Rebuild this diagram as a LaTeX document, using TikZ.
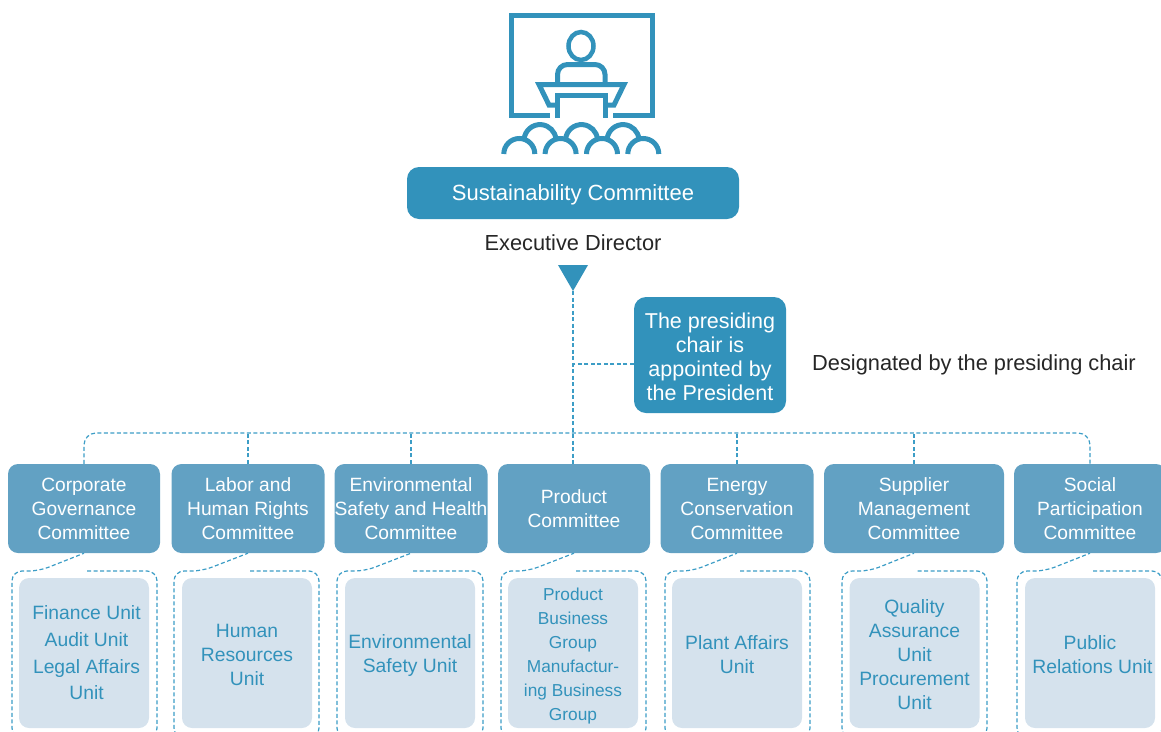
\documentclass[tikz,border=0pt]{standalone}
\usepackage{fontspec}
\setmainfont{Liberation Sans}
\definecolor{mainblue}{HTML}{3292BB}
\definecolor{midblue}{HTML}{62A1C3}
\definecolor{paleblue}{HTML}{D5E2ED}
\definecolor{dashblue}{HTML}{3C9DC6}
\tikzset{
  chairbox/.style={fill=mainblue, text=white, rounded corners=12pt, inner sep=0pt, align=center, font=\fontsize{22}{24}\selectfont},
  commbox/.style={fill=midblue, text=white, rounded corners=10pt, inner sep=0pt, align=center, minimum height=89pt, font=\fontsize{19.2}{24}\selectfont},
  unitbox/.style={fill=paleblue, text=mainblue, rounded corners=10pt, inner sep=0pt, align=center, minimum width=130pt, minimum height=150pt},
  plaintext/.style={text=black!85, inner sep=0pt, font=\fontsize{21.8}{24}\selectfont},
  dashline/.style={draw=dashblue, line width=1.2pt, dash pattern=on 4pt off 2.5pt},
  iconline/.style={draw=mainblue, line width=5pt}
}
\newcommand{\shiftline}{\hspace*{5pt}}
\newcommand{\dropline}[1]{\rule{0pt}{#1pt}}
\begin{document}
\begin{tikzpicture}[x=1pt, y=-1pt]
\useasboundingbox (0,0) rectangle (1161,731);
\clip (0,0) rectangle (1161,731);
% lecture icon
\draw[iconline] (550,115.5) -- (511.5,115.5) -- (511.5,15.5) -- (652.5,15.5) -- (652.5,115.5) -- (613,115.5);
\draw[iconline, line width=4.5pt] (581,46) ellipse [x radius=12.5pt, y radius=14pt];
\draw[iconline, rounded corners=10pt] (557.5,84) -- (557.5,64.5) -- (605,64.5) -- (605,84);
\draw[iconline, line join=miter] (557.5,105) -- (549,105) -- (539,84.5) -- (624,84.5) -- (614,105) -- (605,105);
\draw[iconline] (557.5,118) -- (557.5,95.5) -- (605,95.5) -- (605,118);
\foreach \x in {519.3,560.6,602,643.3}
  \draw[iconline] (\x-15.5,154) arc [start angle=180, end angle=0, radius=15.5pt];
\foreach \x in {540,581.5,623}
  \draw[iconline] (\x-15.9,139.2) arc [start angle=175, end angle=5, radius=16pt];
% top of the chart
\node[chairbox, minimum width=332pt, minimum height=52pt] (sustain) at (573,193) {\dropline{20}Sustainability Committee};
\node[plaintext] (director) at (573,243) {Executive Director};
\fill[mainblue] (558,265) -- (588,265) -- (573,291) -- cycle;
\coordinate (tip) at (573,291);
\coordinate (bus) at (573,433);
\node[chairbox, minimum width=152pt, minimum height=116pt, font=\fontsize{21.5}{24}\selectfont] (chair) at (710,355) {\dropline{20}The presiding\\chair is\\appointed by\\the President};
\node[plaintext, anchor=west] (designated) at (812,365) {Designated by the presiding chair};
% committees and their units
\foreach \name/\cx/\w/\ux/\lx/\rx/\usize/\ctxt/\utxt in {
  corporate/84/152/84/12/157/19.3/{Corporate\\Governance\\Committee}/{\shiftline Finance Unit\\[2.7pt]\shiftline Audit Unit\\[2.7pt]\shiftline Legal Affairs\\[2.7pt]\shiftline Unit},
  labor/248/153/247/174/319/19.3/{Labor and\\Human Rights\\Committee}/{\dropline{18}Human\\Resources\\Unit},
  safety/411/153/410/337/483/19.3/{Environmental\\Safety and Health\\Committee}/{\dropline{18}Environmental\\Safety Unit},
  product/574/152/573/501/646/17.3/{Product\\Committee}/{\dropline{18}Product\\Business\\Group\\Manufactur-\\ing Business\\Group},
  energy/737/153/737/665/810/19.3/{Energy\\Conservation\\Committee}/{\dropline{18}Plant Affairs\\Unit},
  supplier/914/180/914.5/842/987/19.3/{Supplier\\Management\\Committee}/{\dropline{18}Quality\\Assurance\\Unit\\Procurement\\Unit},
  social/1090/152/1090/1017/1162/19.3/{Social\\Participation\\Committee}/{\dropline{18}Public\\\shiftline Relations Unit}}
{
  \node[commbox, minimum width=\w pt] (\name) at (\cx,508.5) {\dropline{15}\ctxt};
  \node[unitbox, font=\fontsize{\usize}{24}\selectfont] (\name unit) at (\ux,653) {\utxt};
  \draw[dashline, rounded corners=10pt] (\ux+3,571) -- (\rx,571) -- (\rx,738) -- (\lx,738) -- (\lx,571) -- (\ux-45,571) -- (\name.south);
}
% dashed links
\draw[dashline, rounded corners=12pt] (corporate.north) -- (corporate.north |- bus) -- (social.north |- bus) -- (social.north);
\foreach \name in {labor,safety,energy,supplier}
  \draw[dashline] (\name.north) -- (\name.north |- bus);
\draw[dashline] (tip) -- (tip |- product.north);
\draw[dashline] ([yshift=-9pt]chair.west) -- ([yshift=-9pt]chair.west -| tip);
\end{tikzpicture}
\end{document}
